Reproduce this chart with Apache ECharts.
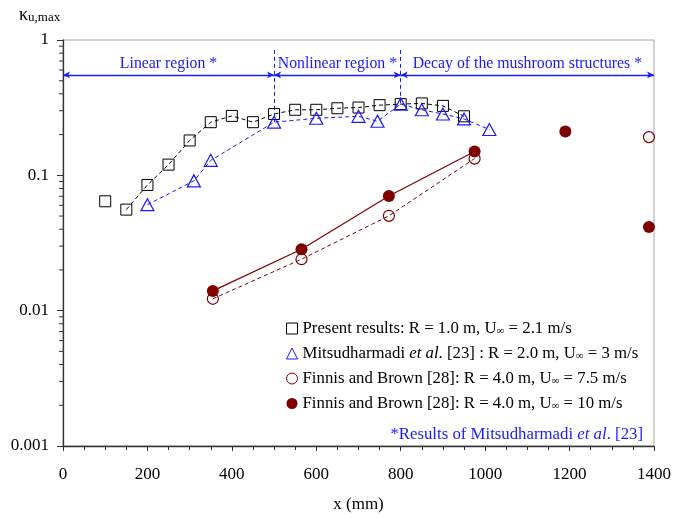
<!DOCTYPE html>
<html>
<head>
<meta charset="utf-8">
<script src="https://cdn.jsdelivr.net/npm/echarts@6/dist/echarts.min.js"></script>
<style>html,body{margin:0;padding:0;background:#fff}#c{width:674px;height:518px}</style>
</head>
<body>
<div id="c"></div>
<script>
// ---- data ----
const presentX = [100, 150, 200, 250, 300, 350, 400, 450, 500, 550, 600, 650, 700, 750, 800, 850, 900, 950];
const presentY = [0.0643, 0.0558, 0.0849, 0.120, 0.181, 0.247, 0.275, 0.247, 0.284, 0.305, 0.305, 0.313, 0.317, 0.330, 0.336, 0.340, 0.326, 0.273];
const mitsuX = [200, 310, 350, 500, 600, 700, 745, 800, 850, 900, 950, 1010];
const mitsuY = [0.0607, 0.091, 0.129, 0.247, 0.264, 0.273, 0.251, 0.336, 0.305, 0.284, 0.261, 0.218];
const finnis75X = [355, 565, 772, 975, 1388];
const finnis75Y = [0.01224, 0.0240, 0.0502, 0.133, 0.1916];
const finnis10X = [355, 565, 772, 975, 1190, 1388];
const finnis10Y = [0.0140, 0.0284, 0.0703, 0.150, 0.211, 0.0415];
const yMajorLabels = {1: '1', 0.1: '0.1', 0.01: '0.01', 0.001: '0.001'};
const yMinorTicks = [0.002,0.003,0.004,0.005,0.006,0.007,0.008,0.009,
                     0.02,0.03,0.04,0.05,0.06,0.07,0.08,0.09,
                     0.2,0.3,0.4,0.5,0.6,0.7,0.8,0.9];
const regionBounds = [0, 500, 800, 1400];
const regionNames = ['Linear region *', 'Nonlinear region *', 'Decay of the mushroom structures *'];
const names = ['Present results', 'Mitsudharmadi', 'Finnis 7.5', 'Finnis 10'];

const zip = (xs, ys) => xs.map((x, i) => [x, ys[i]]);
const FONT = '"Liberation Serif", "Times New Roman", serif';
const BLUE = '#1a1aff';
const RED = '#800000';

const legendRich = {
  'Present results': 'Present results: R = 1.0 m, U{s|∞} = 2.1 m/s',
  'Mitsudharmadi': 'Mitsudharmadi {i|et al}. [23] : R = 2.0 m, U{s|∞} = 3 m/s',
  'Finnis 7.5': 'Finnis and Brown [28]: R = 4.0 m, U{s|∞} = 7.5 m/s',
  'Finnis 10': 'Finnis and Brown [28]: R = 4.0 m, U{s|∞} = 10 m/s'
};

const chart = echarts.init(document.getElementById('c'), null, {renderer: 'canvas'});

const regionLines = [];
for (let i = 0; i < regionNames.length; i++) {
  regionLines.push([
    {coord: [regionBounds[i], 0.552], name: regionNames[i]},
    {coord: [regionBounds[i + 1], 0.552]}
  ]);
}

chart.setOption({
  animation: false,
  backgroundColor: '#fff',
  textStyle: {fontFamily: FONT},
  grid: {left: 63, right: 18, top: 40, bottom: 66, show: true, borderColor: '#a6a6a6', borderWidth: 1},
  xAxis: {
    type: 'value', min: 0, max: 1400, interval: 200,
    name: 'x (mm)', nameLocation: 'middle', nameGap: 50,
    nameTextStyle: {fontFamily: FONT, fontSize: 17, color: '#000'},
    axisLine: {show: true, lineStyle: {color: '#333', width: 1.3}},
    axisTick: {show: true, inside: false, length: 5, lineStyle: {color: '#333'}},
    minorTick: {show: true, splitNumber: 4, length: 4, lineStyle: {color: '#333'}},
    splitLine: {show: false},
    axisLabel: {fontFamily: FONT, fontSize: 17, color: '#000', margin: 20, formatter: v => String(v)}
  },
  yAxis: {
    type: 'log', min: 0.001, max: 1, logBase: 10,
    axisLine: {show: true, onZero: false, lineStyle: {color: '#333', width: 1.3}},
    axisTick: {show: true, inside: false, length: 6, lineStyle: {color: '#333'}},
    splitLine: {show: false},
    axisLabel: {fontFamily: FONT, fontSize: 17, color: '#000', margin: 14,
      formatter: v => yMajorLabels[v] !== undefined ? yMajorLabels[v] : String(v)}
  },
  legend: {
    orient: 'vertical', left: 286, top: 320, padding: 0,
    itemWidth: 11, itemHeight: 11, itemGap: 8,
    data: [
      {name: names[0], itemStyle: {borderWidth: 1}},
      {name: names[1], itemStyle: {borderWidth: 1}},
      {name: names[2], itemStyle: {borderWidth: 1}},
      {name: names[3]}
    ],
    formatter: n => legendRich[n],
    textStyle: {fontFamily: FONT, fontSize: 16.8, color: '#000',
      rich: {
        s: {fontFamily: FONT, fontSize: 11, color: '#000', verticalAlign: 'bottom', padding: [6, 0, 0, 0]},
        i: {fontFamily: FONT, fontSize: 16.8, fontStyle: 'italic', color: '#000'}
      }}
  },
  graphic: [
    {type: 'text', left: 19, top: 6,
     style: {rich: {k: {fontFamily: FONT, fontSize: 18, fill: '#000'}, s: {fontFamily: FONT, fontSize: 13, fill: '#000', padding: [6, 0, 0, 0]}},
       text: '{k|κ}{s|u,max}'}},
    {type: 'text', right: 31, top: 426,
     style: {rich: {n: {fontFamily: FONT, fontSize: 16.8, fill: BLUE}, i: {fontFamily: FONT, fontSize: 16.8, fontStyle: 'italic', fill: BLUE}},
       text: '{n|*Results of Mitsudharmadi }{i|et al}{n|. [23]}'}}
  ],
  series: [
    // y minor log ticks
    {type: 'custom', silent: true, clip: false, z: 5,
     data: yMinorTicks.map(v => [0, v]),
     renderItem: (params, api) => {
       const p = api.coord([0, api.value(1)]);
       return {type: 'line', shape: {x1: p[0] - 4, y1: p[1], x2: p[0], y2: p[1]}, style: {stroke: '#333', lineWidth: 1}};
     }},
    // region annotations
    {type: 'line', data: [], silent: true,
     markLine: {
       silent: true, animation: false,
       symbol: ['arrow', 'arrow'], symbolSize: [5, 7],
       lineStyle: {color: BLUE, type: 'solid', width: 1.3},
       label: {show: true, position: 'insideMiddleTop', distance: 3, formatter: p => p.name,
         fontFamily: FONT, fontSize: 15.8, color: BLUE},
       data: regionLines
     }},
    {type: 'line', data: [], silent: true,
     markLine: {
       silent: true, animation: false, symbol: ['none', 'none'],
       lineStyle: {color: BLUE, type: [4, 3], width: 1},
       label: {show: false},
       data: [
         [{coord: [regionBounds[1], 0.845]}, {coord: [regionBounds[1], mitsuY[3]]}],
         [{coord: [regionBounds[2], 0.845]}, {coord: [regionBounds[2], mitsuY[7]]}]
       ]
     }},
    // connecting lines
    {type: 'line', data: zip(presentX, presentY).slice(1), symbol: 'none', silent: true,
     lineStyle: {color: '#000', width: 1, type: [4, 3]}},
    {type: 'line', data: zip(mitsuX, mitsuY), symbol: 'none', silent: true,
     lineStyle: {color: BLUE, width: 1, type: [4, 3]}},
    {type: 'line', data: zip(finnis75X, finnis75Y).slice(0, 4), symbol: 'none', silent: true,
     lineStyle: {color: RED, width: 1, type: [4, 3]}},
    {type: 'line', data: zip(finnis10X, finnis10Y).slice(0, 4), symbol: 'none', silent: true,
     lineStyle: {color: RED, width: 1.2, type: 'solid'}},
    // markers
    {name: names[0], type: 'scatter', data: zip(presentX, presentY), symbol: 'rect', symbolSize: 11, z: 10,
     itemStyle: {color: 'rgba(255,255,255,0)', borderColor: '#000', borderWidth: 1, opacity: 1}},
    {name: names[1], type: 'scatter', data: zip(mitsuX, mitsuY), symbol: 'triangle', symbolSize: [13, 12], z: 10,
     itemStyle: {color: 'rgba(255,255,255,0)', borderColor: BLUE, borderWidth: 1.2, opacity: 1}},
    {name: names[2], type: 'scatter', data: zip(finnis75X, finnis75Y), symbol: 'circle', symbolSize: 11, z: 10,
     itemStyle: {color: 'rgba(255,255,255,0)', borderColor: RED, borderWidth: 1.2, opacity: 1}},
    {name: names[3], type: 'scatter', data: zip(finnis10X, finnis10Y), symbol: 'circle', symbolSize: 12, z: 11,
     itemStyle: {color: RED, borderColor: RED, borderWidth: 0, opacity: 1}}
  ]
});
</script>
</body>
</html>
